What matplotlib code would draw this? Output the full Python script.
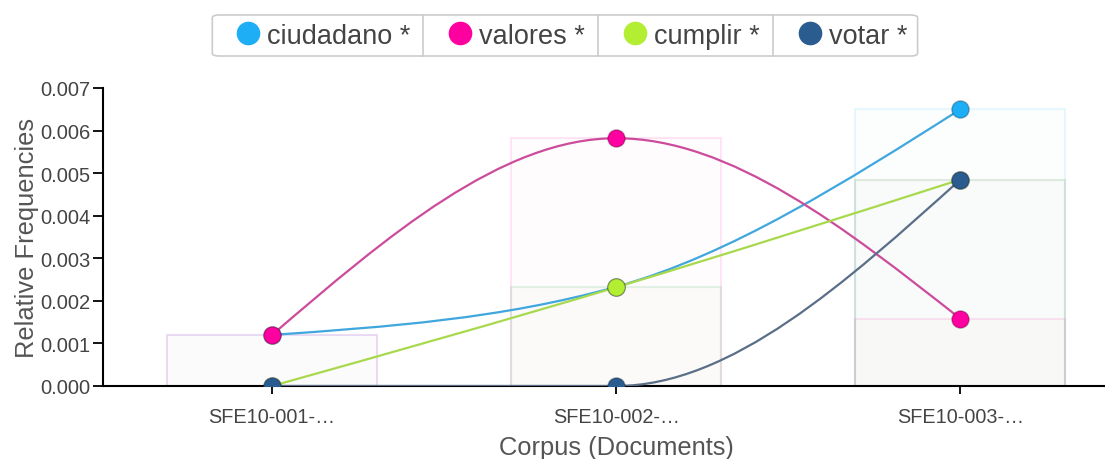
import numpy as np
import matplotlib
matplotlib.use('Agg')
import matplotlib.pyplot as plt
from matplotlib.path import Path
from matplotlib.patches import PathPatch, FancyBboxPatch
from matplotlib.lines import Line2D

plt.rcParams['font.family'] = ['Liberation Sans', 'DejaVu Sans']

# data
docs = ['SFE10-001-…', 'SFE10-002-…', 'SFE10-003-…']
terms = ['ciudadano *', 'valores *', 'cumplir *', 'votar *']
ciudadano = [0.0012, 0.00233, 0.0065]
valores = [0.0012, 0.00582, 0.00158]
cumplir = [0.0, 0.00232, 0.00485]
votar = [0.0, 0.0, 0.00485]
series = [ciudadano, valores, cumplir, votar]

colors = ['#1eaef5', '#ff00a0', '#b4ee32', '#2b5c8f']
line_colors = ['#3fa7de', '#cc4c9c', '#a8d94c', '#5a6e88']


def monotone_path(x, y):
    # same as d3.curveMonotoneX, built as bezier segments in data coords
    x = np.asarray(x, float)
    y = np.asarray(y, float)
    n = len(x)
    h = np.diff(x)
    s = np.diff(y) / h
    t = np.zeros(n)
    for i in range(1, n - 1):
        p = (s[i - 1] * h[i] + s[i] * h[i - 1]) / (h[i - 1] + h[i])
        sg = (-1 if s[i - 1] < 0 else 1) + (-1 if s[i] < 0 else 1)
        t[i] = sg * min(abs(s[i - 1]), abs(s[i]), 0.5 * abs(p))
    t[0] = (3 * s[0] - t[1]) / 2
    t[-1] = (3 * s[-1] - t[-2]) / 2
    verts = [(x[0], y[0])]
    codes = [Path.MOVETO]
    for i in range(n - 1):
        dx = h[i] / 3
        verts += [(x[i] + dx, y[i] + dx * t[i]),
                  (x[i + 1] - dx, y[i + 1] - dx * t[i + 1]),
                  (x[i + 1], y[i + 1])]
        codes += [Path.CURVE4] * 3
    return Path(verts, codes)


fig = plt.figure(figsize=(11.05, 4.6), dpi=100)
ax = fig.add_axes([103 / 1105, 73 / 460, 1002 / 1105, 298 / 460])

x = np.arange(len(docs))

# faint bars behind the lines
for vals, c in zip(series, colors):
    ax.bar(x, vals, width=0.61, color=matplotlib.colors.to_rgba(c, 0.012),
           edgecolor=matplotlib.colors.to_rgba(c, 0.1), linewidth=1.5, zorder=1)

for vals, c, lc in zip(series, colors, line_colors):
    ax.add_patch(PathPatch(monotone_path(x, vals), fill=False, edgecolor=lc,
                           linewidth=1.6, zorder=3))
    ax.scatter(x, vals, s=12.5 ** 2, c=c, edgecolors=[(0, 0, 0, 0.25)],
               linewidths=1, zorder=4)

ax.set_xlim(-0.491, 2.42)
ax.set_ylim(0, 0.007)
ax.set_yticks(np.arange(0, 0.0071, 0.001))
ax.set_yticklabels(['%.3f' % v for v in np.arange(0, 0.0071, 0.001)])
ax.set_xticks(x)
ax.set_xticklabels(docs)

for side in ['top', 'right']:
    ax.spines[side].set_visible(False)
ax.spines['left'].set_linewidth(1.5)
ax.spines['bottom'].set_linewidth(1.5)
ax.tick_params(axis='y', length=7, width=1.3, pad=2, labelsize=14.5, labelcolor='#444444')
ax.tick_params(axis='x', length=6, width=1.3, pad=9, labelsize=14.3, labelcolor='#444444')

ax.set_xlabel('Corpus (Documents)', fontsize=18.4, color='#555555')
ax.xaxis.set_label_coords(0.512, -0.165)
ax.set_ylabel('Relative Frequencies', fontsize=18.4, color='#555555')
ax.yaxis.set_label_coords(-0.064, 0.5)

handles = [Line2D([], [], marker='o', ls='', ms=16, mfc=c, mec=c) for c in colors]
leg = fig.legend(handles, terms, loc='center', ncol=4,
                 bbox_to_anchor=(571 / 1105, 1 - 36.5 / 460), fontsize=19.5,
                 frameon=False, handletextpad=0.2, columnspacing=1.35,
                 handlelength=1.0, borderpad=0)
for txt in leg.get_texts():
    txt.set_color('#444444')

# rounded frame and vertical separators between legend items
fig.canvas.draw()
r = fig.canvas.get_renderer()
W, H = fig.bbox.width, fig.bbox.height
texts = leg.get_texts()
hs = leg.legend_handles
x0 = hs[0].get_window_extent(r).x0 - 11
x1 = texts[-1].get_window_extent(r).x1 + 10
yc = H - 36.5
y0, y1 = yc - 20.5, yc + 20.5
fig.add_artist(FancyBboxPatch((x0 / W, y0 / H), (x1 - x0) / W, (y1 - y0) / H,
                              boxstyle='round,pad=0,rounding_size=0.006',
                              transform=fig.transFigure, facecolor='white',
                              edgecolor='#cccccc', lw=1.2, zorder=-1))
for i in range(len(texts) - 1):
    right = texts[i].get_window_extent(r).x1
    left = hs[i + 1].get_window_extent(r).x0
    xs = (right + 0.5 * (left - right)) / W
    fig.add_artist(Line2D([xs, xs], [y0 / H, y1 / H], color='#cccccc', lw=1.2,
                          transform=fig.transFigure))

fig.savefig('out.png', dpi=100)
